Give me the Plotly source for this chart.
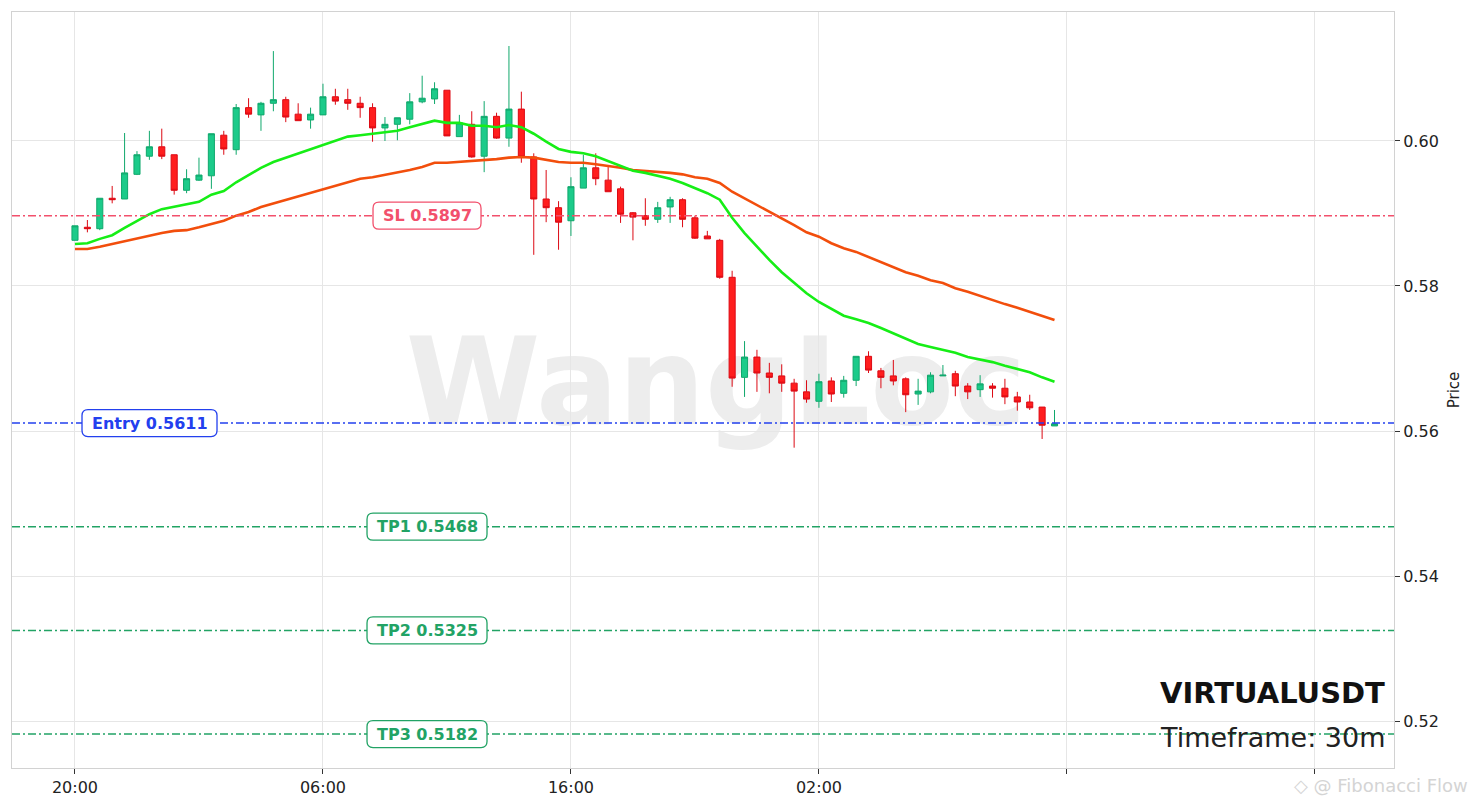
import pandas as pd
import plotly.graph_objects as go

# ---------------- data ----------------
symbol = "VIRTUALUSDT"
timeframe = "30m"
start_time = "2025-03-10 20:00"

open_ = [0.5863, 0.5881, 0.5879, 0.5921, 0.5920, 0.5954, 0.5979, 0.5992, 0.5981, 0.5932,
         0.5946, 0.5952, 0.6008, 0.5988, 0.6046, 0.6036, 0.6052, 0.6057, 0.6037, 0.6029,
         0.6036, 0.6061, 0.6057, 0.6052, 0.6046, 0.6018, 0.6023, 0.6030, 0.6054, 0.6058,
         0.6070, 0.6006, 0.6023, 0.5979, 0.6034, 0.6004, 0.6044, 0.5978, 0.5920, 0.5908,
         0.5890, 0.5935, 0.5963, 0.5946, 0.5934, 0.5901, 0.5897, 0.5892, 0.5909, 0.5919,
         0.5894, 0.5869, 0.5863, 0.5812, 0.5674, 0.5702, 0.5680, 0.5676, 0.5666, 0.5654,
         0.5641, 0.5669, 0.5652, 0.5670, 0.5703, 0.5683, 0.5676, 0.5672, 0.5651, 0.5654,
         0.5676, 0.5679, 0.5662, 0.5657, 0.5662, 0.5659, 0.5647, 0.5640, 0.5633, 0.5607]
high = [0.5883, 0.5891, 0.5921, 0.5938, 0.6011, 0.5986, 0.6014, 0.6017, 0.5981, 0.5961,
        0.5977, 0.6010, 0.6014, 0.6051, 0.6059, 0.6054, 0.6124, 0.6061, 0.6052, 0.6046,
        0.6079, 0.6072, 0.6072, 0.6061, 0.6052, 0.6033, 0.6032, 0.6066, 0.6090, 0.6081,
        0.6070, 0.6036, 0.6041, 0.6055, 0.6039, 0.6131, 0.6068, 0.5983, 0.5960, 0.5917,
        0.5950, 0.5981, 0.5983, 0.5964, 0.5937, 0.5902, 0.5921, 0.5916, 0.5923, 0.5921,
        0.5897, 0.5876, 0.5865, 0.5821, 0.5724, 0.5712, 0.5694, 0.5692, 0.5672, 0.5670,
        0.5679, 0.5674, 0.5676, 0.5703, 0.5710, 0.5687, 0.5698, 0.5674, 0.5672, 0.5681,
        0.5691, 0.5683, 0.5666, 0.5677, 0.5666, 0.5672, 0.5654, 0.5650, 0.5633, 0.5629]
low = [0.5863, 0.5874, 0.5877, 0.5914, 0.5920, 0.5953, 0.5974, 0.5975, 0.5926, 0.5928,
       0.5945, 0.5934, 0.5981, 0.5981, 0.6032, 0.6014, 0.6041, 0.6026, 0.6028, 0.6017,
       0.6036, 0.6050, 0.6043, 0.6032, 0.5999, 0.6000, 0.6001, 0.6023, 0.6052, 0.6051,
       0.6007, 0.6006, 0.5977, 0.5957, 0.6003, 0.5992, 0.5970, 0.5843, 0.5888, 0.5850,
       0.5869, 0.5935, 0.5939, 0.5930, 0.5887, 0.5863, 0.5883, 0.5887, 0.5887, 0.5881,
       0.5865, 0.5865, 0.5810, 0.5661, 0.5647, 0.5654, 0.5652, 0.5654, 0.5577, 0.5639,
       0.5632, 0.5640, 0.5646, 0.5662, 0.5680, 0.5659, 0.5663, 0.5626, 0.5636, 0.5652,
       0.5676, 0.5648, 0.5644, 0.5647, 0.5646, 0.5637, 0.5628, 0.5629, 0.5589, 0.5607]
close = [0.5883, 0.5879, 0.5921, 0.5919, 0.5956, 0.5981, 0.5992, 0.5979, 0.5932, 0.5948,
         0.5953, 0.6010, 0.5989, 0.6046, 0.6037, 0.6052, 0.6057, 0.6033, 0.6028, 0.6037,
         0.6061, 0.6055, 0.6052, 0.6046, 0.6018, 0.6023, 0.6032, 0.6054, 0.6059, 0.6072,
         0.6007, 0.6025, 0.5978, 0.6034, 0.6004, 0.6044, 0.5978, 0.5920, 0.5908, 0.5888,
         0.5937, 0.5963, 0.5948, 0.5930, 0.5899, 0.5895, 0.5892, 0.5908, 0.5919, 0.5892,
         0.5866, 0.5865, 0.5812, 0.5673, 0.5702, 0.5680, 0.5674, 0.5666, 0.5655, 0.5644,
         0.5668, 0.5651, 0.5670, 0.5703, 0.5684, 0.5674, 0.5669, 0.5650, 0.5655, 0.5677,
         0.5677, 0.5662, 0.5654, 0.5665, 0.5659, 0.5647, 0.5640, 0.5632, 0.5608, 0.5610]

ema_fast = [0.5858, 0.5859, 0.5865, 0.5870, 0.5880, 0.5890, 0.5899, 0.5906, 0.5909, 0.5912,
            0.5916, 0.5926, 0.5931, 0.5943, 0.5953, 0.5963, 0.5971, 0.5977, 0.5982, 0.5988,
            0.5994, 0.6001, 0.6006, 0.6008, 0.6010, 0.6011, 0.6014, 0.6019, 0.6023, 0.6028,
            0.6025, 0.6025, 0.6021, 0.6021, 0.6019, 0.6022, 0.6019, 0.6010, 0.5999, 0.5989,
            0.5985, 0.5983, 0.5979, 0.5972, 0.5966, 0.5959, 0.5956, 0.5952, 0.5948, 0.5942,
            0.5935, 0.5928, 0.5919, 0.5894, 0.5873, 0.5854, 0.5836, 0.5819, 0.5804, 0.5790,
            0.5778, 0.5768, 0.5759, 0.5754, 0.5749, 0.5742, 0.5735, 0.5728, 0.5720, 0.5716,
            0.5712, 0.5708, 0.5702, 0.5699, 0.5695, 0.5690, 0.5686, 0.5681, 0.5674, 0.5668]
ema_slow = [0.5851, 0.5851, 0.5854, 0.5858, 0.5861, 0.5865, 0.5869, 0.5873, 0.5876, 0.5877,
            0.5881, 0.5886, 0.5890, 0.5897, 0.5902, 0.5909, 0.5914, 0.5919, 0.5923, 0.5928,
            0.5934, 0.5939, 0.5943, 0.5948, 0.5950, 0.5953, 0.5956, 0.5960, 0.5964, 0.5970,
            0.5970, 0.5971, 0.5972, 0.5974, 0.5975, 0.5977, 0.5978, 0.5977, 0.5974, 0.5971,
            0.5970, 0.5970, 0.5968, 0.5966, 0.5963, 0.5960, 0.5959, 0.5957, 0.5956, 0.5954,
            0.5950, 0.5948, 0.5942, 0.5930, 0.5921, 0.5912, 0.5902, 0.5894, 0.5884, 0.5874,
            0.5868, 0.5859, 0.5852, 0.5847, 0.5840, 0.5833, 0.5826, 0.5819, 0.5814, 0.5808,
            0.5804, 0.5797, 0.5792, 0.5786, 0.5781, 0.5775, 0.5770, 0.5764, 0.5759, 0.5753]

level_names = ["SL", "Entry", "TP1", "TP2", "TP3"]
level_values = [0.5897, 0.5611, 0.5468, 0.5325, 0.5182]

x_tick_labels = ["20:00", "06:00", "16:00", "02:00", "", ""]
y_tick_values = [0.52, 0.54, 0.56, 0.58, 0.60]

# ---------------- styling ----------------
level_colors = ["#f2506c", "#2340ee", "#22a365", "#22a365", "#22a365"]
level_label_x = [0.3003, 0.0995, 0.3003, 0.3003, 0.3003]   # paper coords
level_box_w = [108, 135, 120, 120, 120]
FONT = "DejaVu Sans"

t0 = pd.Timestamp(start_time)
times = pd.date_range(t0, periods=len(open_), freq="30min")
tick_times = pd.date_range(t0, periods=len(x_tick_labels), freq="10h")
x_range = [t0 - pd.Timedelta(hours=2.54), t0 + pd.Timedelta(hours=53.19)]

fig = go.Figure()

fig.add_trace(go.Candlestick(
    x=times, open=open_, high=high, low=low, close=close,
    increasing=dict(line=dict(color="#10a86c", width=1), fillcolor="#1ccb8a"),
    decreasing=dict(line=dict(color="#dc0a14", width=1), fillcolor="#ff1e1e"),
    whiskerwidth=0, hoverinfo="skip", showlegend=False,
))
fig.add_trace(go.Scatter(x=times, y=ema_slow, mode="lines",
                         line=dict(color="#f24e0c", width=2.6), hoverinfo="skip", showlegend=False))
fig.add_trace(go.Scatter(x=times, y=ema_fast, mode="lines",
                         line=dict(color="#16ee16", width=2.6), hoverinfo="skip", showlegend=False))

shapes = []
# watermark
shapes.append(dict(type="rect", xref="paper", yref="paper", x0=0.2094, x1=0.8094, y0=0.3225, y1=0.7225,
                   line=dict(width=0), fillcolor="rgba(0,0,0,0)", layer="below",
                   label=dict(text="<b>WangLoc</b>", textposition="middle center",
                              font=dict(family=FONT, size=122, color="#ededed"))))
for v, c in zip(level_values, level_colors):
    shapes.append(dict(type="line", xref="paper", x0=0, x1=1, yref="y", y0=v, y1=v,
                       line=dict(color=c, width=1.5, dash="8px,3px,2px,3px"), layer="above"))


def rounded_path(w, h, r):
    a, b = w / 2, h / 2
    return (f"M {-a + r},{-b} L {a - r},{-b} Q {a},{-b} {a},{-b + r} "
            f"L {a},{b - r} Q {a},{b} {a - r},{b} L {-a + r},{b} Q {-a},{b} {-a},{b - r} "
            f"L {-a},{-b + r} Q {-a},{-b} {-a + r},{-b} Z")


annotations = []
for name, v, c, lx, bw in zip(level_names, level_values, level_colors, level_label_x, level_box_w):
    shapes.append(dict(type="path", xref="paper", yref="y", xsizemode="pixel", ysizemode="pixel",
                       xanchor=lx, yanchor=v, path=rounded_path(bw, 27, 6),
                       fillcolor="white", line=dict(color=c, width=1.3), layer="above"))
    annotations.append(dict(x=lx, y=v, xref="paper", yref="y", text=f"<b>{name} {v:.4f}</b>",
                            showarrow=False, xanchor="center", yanchor="middle",
                            font=dict(family=FONT, size=16, color=c)))

annotations.append(dict(x=0.9949, y=0.0992, xref="paper", yref="paper", text=f"<b>{symbol}</b>",
                        showarrow=False, xanchor="right", yanchor="middle",
                        font=dict(family=FONT, size=29, color="#111111")))
annotations.append(dict(x=0.9949, y=0.041, xref="paper", yref="paper", text=f"Timeframe: {timeframe}",
                        showarrow=False, xanchor="right", yanchor="middle",
                        font=dict(family=FONT, size=27, color="#222222")))
annotations.append(dict(x=1.055, y=-0.0225, xref="paper", yref="paper", text="◇ @ Fibonacci Flow",
                        showarrow=False, xanchor="right", yanchor="middle",
                        font=dict(family=FONT, size=18, color="#d4d4d4")))

fig.update_layout(
    template="none",
    width=1479, height=808,
    margin=dict(l=12, r=85, t=12, b=40, autoexpand=False),
    paper_bgcolor="white", plot_bgcolor="white",
    font=dict(family=FONT, size=16, color="#222222"),
    showlegend=False,
    shapes=shapes, annotations=annotations,
    xaxis=dict(type="date", range=x_range, tickvals=tick_times, ticktext=x_tick_labels,
               showgrid=True, gridcolor="#e6e6e6", gridwidth=1, zeroline=False,
               ticks="outside", ticklen=5, tickcolor="#333333", tickwidth=1,
               showline=True, linecolor="#d2d2d2", linewidth=1, mirror=True,
               rangeslider=dict(visible=False), automargin=False,
               tickfont=dict(family=FONT, size=16, color="#222222")),
    yaxis=dict(side="right", range=[0.51352, 0.61779], tickvals=y_tick_values, tickformat=".2f",
               showgrid=True, gridcolor="#e6e6e6", gridwidth=1, zeroline=False,
               ticks="outside", ticklen=5, tickcolor="#333333", tickwidth=1,
               showline=True, linecolor="#d2d2d2", linewidth=1, mirror=True, automargin=False,
               tickfont=dict(family=FONT, size=16, color="#222222"),
               title=dict(text="Price", standoff=10, font=dict(family=FONT, size=15, color="#222222"))),
)

fig.write_html("out.html", config={"displayModeBar": False},
               post_script="document.body.style.margin='0';document.body.style.overflow='hidden';")
